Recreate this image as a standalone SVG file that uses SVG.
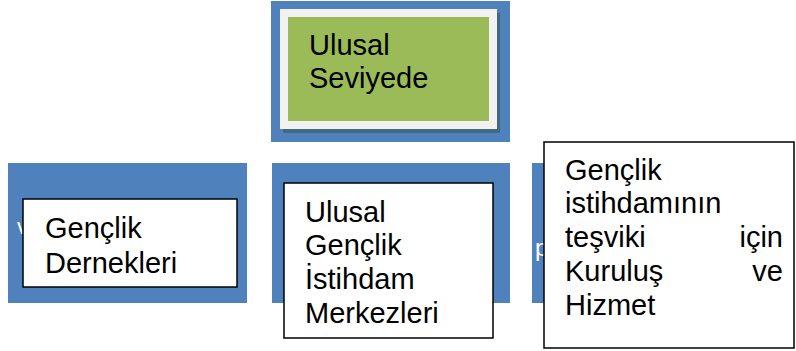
<svg xmlns="http://www.w3.org/2000/svg" width="796" height="351" viewBox="0 0 796 351">
<style>
.blue{fill:#4F81BD}
.box{fill:#FFFFFF;stroke:#000000;stroke-width:1.5}
.t{font-family:"Liberation Sans",Arial,sans-serif;font-size:29px;fill:#000000}
.ghost{font-family:"Liberation Sans",Arial,sans-serif;font-size:22px;fill:#FFFFFF}
</style>
<rect width="796" height="351" fill="#FFFFFF"/>
<g id="connectors"></g>
<g id="node-top">
<rect class="blue" x="271" y="1" width="239" height="141"/>
<rect x="283" y="13" width="217" height="120" fill="#41697F"/>
<rect x="280" y="9" width="217" height="120" fill="#F2F2F2"/>
<rect x="288" y="17" width="201" height="104" fill="#9BBB59"/>
<text class="t" x="309" y="55">Ulusal</text>
<text class="t" x="309" y="88">Seviyede</text>
</g>
<g id="node-left">
<rect class="blue" x="8" y="163" width="239" height="140"/>
<text class="ghost" x="17" y="234">v</text>
<rect class="box" x="23" y="199" width="214" height="88"/>
<text class="t" x="45" y="238">Gençlik</text>
<text class="t" x="45" y="273">Dernekleri</text>
</g>
<g id="node-middle">
<rect class="blue" x="272" y="163" width="238" height="140"/>
<rect class="box" x="284" y="183" width="209" height="155"/>
<text class="t" x="305" y="222">Ulusal</text>
<text class="t" x="305" y="255">Gençlik</text>
<text class="t" x="305" y="289">İstihdam</text>
<text class="t" x="305" y="323">Merkezleri</text>
</g>
<g id="node-right">
<rect class="blue" x="532" y="163" width="239" height="140"/>
<text class="ghost" x="535" y="256" style="font-size:24px">p</text>
<rect class="box" x="544" y="142" width="250" height="206"/>
<text class="t" x="565" y="180">Gençlik</text>
<text class="t" x="565" y="213">istihdamının</text>
<text class="t" x="565" y="247">teşviki</text>
<text class="t" x="783" y="247" text-anchor="end">için</text>
<text class="t" x="565" y="281">Kuruluş</text>
<text class="t" x="783" y="281" text-anchor="end">ve</text>
<text class="t" x="565" y="315">Hizmet</text>
</g>
</svg>
